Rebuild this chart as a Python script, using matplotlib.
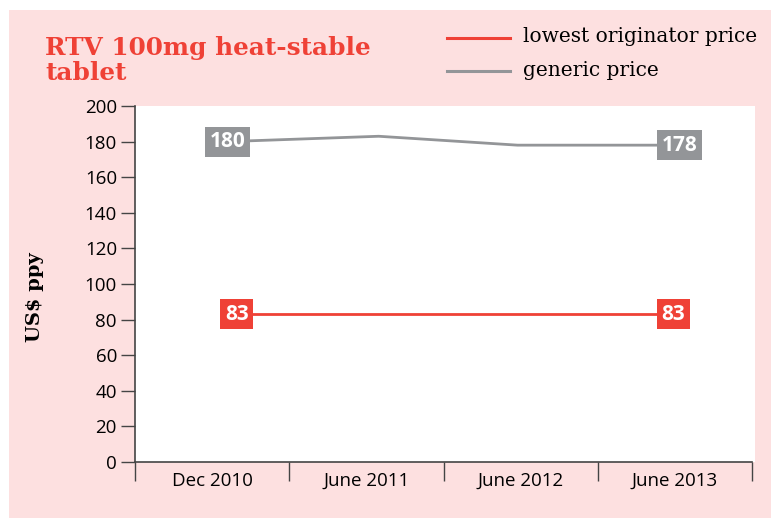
import matplotlib
matplotlib.use("Agg")
import matplotlib.pyplot as plt
from matplotlib.patches import Rectangle
from matplotlib.lines import Line2D

periods = ["Dec 2010", "June 2011", "June 2012", "June 2013"]
originator = [83, 83, 83, 83]
generic = [180, 183, 178, 178]
# where the points sit along the axis (category slot units)
orig_pos = [0.16, 1.0, 2.0, 2.99]
gen_pos = [0.10, 1.08, 1.98, 3.03]
yticks = [0, 20, 40, 60, 80, 100, 120, 140, 160, 180, 200]
series_names = ["lowest originator price", "generic price"]

red = "#ef4136"
grey = "#939598"
pink = "#fde0e0"

W, H = 771, 518
fig = plt.figure(figsize=(W/100, H/100), dpi=100)
fig.patch.set_facecolor("white")
fig.add_artist(Rectangle((9/W, 0), 1, 1 - 10/H, transform=fig.transFigure,
                         facecolor=pink, edgecolor="none", zorder=-10))
# white plot area runs a little past the axis end
fig.add_artist(Rectangle((135/W, 1 - 462/H), 620/W, 356/H, transform=fig.transFigure,
                         facecolor="white", edgecolor="none", zorder=-5))

ax = fig.add_axes([135/W, 1 - 462/H, 617/W, 356/H])
ax.patch.set_visible(False)

ax.plot(gen_pos, generic, color=grey, lw=2)
ax.plot(orig_pos, originator, color=red, lw=2)

ax.set_xlim(-0.5, len(periods) - 0.5)
ax.set_ylim(0, 200)
ax.set_yticks(yticks)
ax.set_xticks([i - 0.5 for i in range(len(periods) + 1)])
ax.set_xticklabels([])
ax.set_xticks(range(len(periods)), minor=True)
ax.set_xticklabels(periods, minor=True)
ax.tick_params(axis="x", which="minor", length=0, pad=7)
ax.tick_params(axis="x", which="major", length=14, width=1, direction="out", color="#444444")
ax.tick_params(axis="y", length=10, width=1, direction="out", color="#444444", pad=3)
for lab in ax.get_xticklabels(minor=True) + ax.get_yticklabels():
    lab.set_fontfamily("Open Sans")
    lab.set_fontsize(13.5)
for s in ["top", "right"]:
    ax.spines[s].set_visible(False)
for s in ["left", "bottom"]:
    ax.spines[s].set_color("#444444")
    ax.spines[s].set_linewidth(1.2)

fig.text(35/W, 1 - 297/H, "US$ ppy", rotation=90, ha="center", va="center",
         fontfamily="DejaVu Serif", fontweight="bold", fontsize=14)

def tag(xv, yv, col):
    ax.text(xv, yv, str(yv), ha="center", va="center", color="white", fontweight="bold",
            fontfamily="Open Sans", fontsize=15,
            bbox=dict(boxstyle="square,pad=0.22", facecolor=col, edgecolor="none"), zorder=5)

tag(gen_pos[0], generic[0], grey)
tag(gen_pos[-1], generic[-1], grey)
tag(orig_pos[0], originator[0], red)
tag(orig_pos[-1], originator[-1], red)

fig.text(45/W, 1 - 55/H, "RTV 100mg heat-stable", color=red, fontweight="bold",
         fontfamily="DejaVu Serif", fontsize=17.8, ha="left", va="baseline")
fig.text(45/W, 1 - 80/H, "tablet", color=red, fontweight="bold",
         fontfamily="DejaVu Serif", fontsize=17.8, ha="left", va="baseline")

for name, col, yp in zip(series_names, [red, grey], [38, 71]):
    fig.add_artist(Line2D([447/W, 510/W], [1 - yp/H, 1 - yp/H], color=col, lw=2.2,
                          transform=fig.transFigure))
    fig.text(523/W, 1 - (yp - 1)/H, name, ha="left", va="center",
             fontfamily="DejaVu Serif", fontsize=14.5)

fig.savefig("out.png", dpi=100, facecolor=fig.get_facecolor())
